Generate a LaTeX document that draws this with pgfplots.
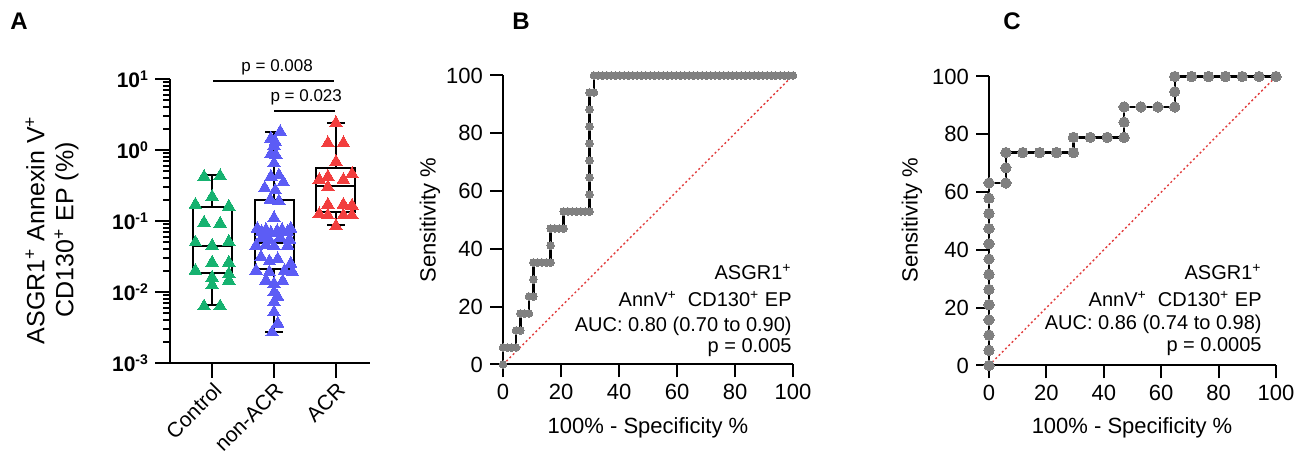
\documentclass[border=0pt]{standalone}
\usepackage{pgfplots}
\usepackage{pgfplotstable}
\pgfplotsset{compat=1.18}
\usepackage{fontspec}
\setmainfont{Liberation Sans}
\definecolor{cgreen}{RGB}{22,178,112}
\definecolor{cblue}{RGB}{92,92,245}
\definecolor{cred}{RGB}{242,62,62}
\definecolor{cgray}{RGB}{128,128,128}
\definecolor{cdiag}{RGB}{225,60,60}
\newcommand{\tenp}[1]{\textbf{10}\raisebox{0.6ex}{\fontsize{7}{8}\selectfont\textbf{#1}}}

\pgfplotstableread{
x y
0 0
0 5.88
1.49 5.88
2.99 5.88
4.48 5.88
4.48 11.76
5.97 11.76
5.97 17.65
7.46 17.65
8.96 17.65
8.96 23.53
10.45 23.53
10.45 29.41
10.45 35.29
11.94 35.29
13.43 35.29
14.93 35.29
16.42 35.29
16.42 41.18
16.42 47.06
17.91 47.06
19.40 47.06
20.90 47.06
20.90 52.94
22.39 52.94
23.88 52.94
25.37 52.94
26.87 52.94
28.36 52.94
29.85 52.94
29.85 58.82
29.85 64.71
29.85 70.59
29.85 76.47
29.85 82.35
29.85 88.24
29.85 94.12
31.34 94.12
31.34 100
32.84 100
34.33 100
35.82 100
37.31 100
38.81 100
40.30 100
41.79 100
43.28 100
44.78 100
46.27 100
47.76 100
49.25 100
50.75 100
52.24 100
53.73 100
55.22 100
56.72 100
58.21 100
59.70 100
61.19 100
62.69 100
64.18 100
65.67 100
67.16 100
68.66 100
70.15 100
71.64 100
73.13 100
74.63 100
76.12 100
77.61 100
79.10 100
80.60 100
82.09 100
83.58 100
85.07 100
86.57 100
88.06 100
89.55 100
91.04 100
92.54 100
94.03 100
95.52 100
97.01 100
98.51 100
100 100
}\rocB

\pgfplotstableread{
x y
0 0
0 5.26
0 10.53
0 15.79
0 21.05
0 26.32
0 31.58
0 36.84
0 42.11
0 47.37
0 52.63
0 57.89
0 63.16
5.88 63.16
5.88 68.42
5.88 73.68
11.76 73.68
17.65 73.68
23.53 73.68
29.41 73.68
29.41 78.95
35.29 78.95
41.18 78.95
47.06 78.95
47.06 84.21
47.06 89.47
52.94 89.47
58.82 89.47
64.71 89.47
64.71 94.74
64.71 100
70.59 100
76.47 100
82.35 100
88.24 100
94.12 100
100 100
}\rocC

\begin{document}
\begin{tikzpicture}[x=0.5pt,y=0.5pt]
\path[use as bounding box] (0,0) rectangle (1299,459);

% ---------------- Panel A ----------------
\begin{axis}[
  at={(85pt,48pt)}, anchor=south west,
  scale only axis, width=100pt, height=142pt,
  ymode=log, ymin=1e-3, ymax=10,
  xmin=-0.68, xmax=2.55,
  axis lines=left, axis line style={-, line width=1pt},
  xtick={0,1,2}, xticklabels={Control,non-ACR,ACR},
  xticklabel style={rotate=45, anchor=north east, inner sep=1pt, font=\fontsize{10.5}{12}\selectfont},
  ytick={1e-3,1e-2,1e-1,1,10},
  yticklabels={\tenp{-3},\tenp{-2},\tenp{-1},\tenp{0},\tenp{1}},
  yticklabel style={font=\fontsize{10.5}{12}\selectfont},
  minor ytick={2e-3,3e-3,4e-3,5e-3,6e-3,7e-3,8e-3,9e-3,2e-2,3e-2,4e-2,5e-2,6e-2,7e-2,8e-2,9e-2,2e-1,3e-1,4e-1,5e-1,6e-1,7e-1,8e-1,9e-1,2,3,4,5,6,7,8,9},
  tick align=outside, major tick length=7.5pt, minor tick length=3.5pt,
  tick style={black, line width=1pt},
  clip=false, unbounded coords=jump,
]
\draw[line width=1pt] (rel axis cs:0,0) -- ++(-7.5pt,0pt);
% boxes
\addplot[black, line width=1pt, line join=miter] coordinates {
 (-0.315,0.0186) (0.315,0.0186) (0.315,0.16) (-0.315,0.16) (-0.315,0.0186) (nan,nan)
 (-0.315,0.044) (0.315,0.044) (nan,nan)
 (0,0.0065) (0,0.0186) (nan,nan) (0,0.16) (0,0.44) (nan,nan)
 (-0.14,0.0065) (0.14,0.0065) (nan,nan) (-0.14,0.44) (0.14,0.44)};
\addplot[black, line width=1pt, line join=miter] coordinates {
 (0.685,0.021) (1.315,0.021) (1.315,0.2) (0.685,0.2) (0.685,0.021) (nan,nan)
 (0.685,0.049) (1.315,0.049) (nan,nan)
 (1,0.0027) (1,0.021) (nan,nan) (1,0.2) (1,1.8) (nan,nan)
 (0.86,0.0027) (1.14,0.0027) (nan,nan) (0.86,1.8) (1.14,1.8)};
\addplot[black, line width=1pt, line join=miter] coordinates {
 (1.685,0.135) (2.315,0.135) (2.315,0.56) (1.685,0.56) (1.685,0.135) (nan,nan)
 (1.685,0.31) (2.315,0.31) (nan,nan)
 (2,0.087) (2,0.135) (nan,nan) (2,0.56) (2,2.4) (nan,nan)
 (1.86,0.087) (2.14,0.087) (nan,nan) (1.86,2.4) (2.14,2.4)};
% points
\addplot[only marks, color=cgreen, mark=triangle*, mark size=3.6pt, mark options={fill=cgreen, draw=cgreen, line width=0pt}] coordinates {
 (-0.13,0.42) (0.13,0.43) (0,0.22) (-0.27,0.17) (0.27,0.16) (-0.13,0.095) (0.13,0.092)
 (-0.27,0.050) (0,0.045) (0.27,0.051) (0,0.026) (0.27,0.026) (-0.27,0.020) (0.27,0.018)
 (0,0.016) (0.27,0.0145) (0,0.0125) (-0.13,0.0063) (0.13,0.0063)};
\addplot[only marks, color=cblue, mark=triangle*, mark size=3.6pt, mark options={fill=cblue, draw=cblue, line width=0pt}] coordinates {
 (1.10,1.8) (0.95,1.45) (1.02,1.3) (1.0,1.15) (0.95,0.88) (1.03,0.85) (1.0,0.65)
 (0.95,0.42) (1.08,0.44) (1.15,0.35) (0.85,0.29) (1.02,0.27) (0.94,0.20) (1.08,0.19)
 (1.0,0.11) (0.73,0.078) (0.80,0.070) (0.87,0.075) (0.95,0.068) (1.05,0.072) (1.13,0.075)
 (1.22,0.070) (1.27,0.078) (0.80,0.057) (0.92,0.055) (1.10,0.058) (1.25,0.055)
 (0.71,0.045) (0.87,0.046) (1.0,0.044) (1.22,0.045) (0.79,0.031) (0.925,0.027) (1.06,0.029)
 (1.27,0.025) (0.71,0.020) (0.925,0.019) (1.17,0.020) (1.30,0.019) (0.87,0.0145) (1.0,0.013)
 (1.14,0.0142) (1.0,0.0099) (1.06,0.0085) (1.0,0.0072) (1.0,0.0052) (1.06,0.0036) (0.97,0.0027)};
\addplot[only marks, color=cred, mark=triangle*, mark size=3.6pt, mark options={fill=cred, draw=cred, line width=0pt}] coordinates {
 (2,2.4) (1.87,1.25) (2.12,1.25) (2,0.68) (1.73,0.38) (1.87,0.42) (2.12,0.38) (2.26,0.46)
 (1.87,0.30) (1.73,0.125) (1.87,0.17) (2.12,0.17) (2.26,0.165) (1.87,0.12) (2.12,0.12)
 (2.26,0.12) (2,0.085)};
% significance bars
\addplot[black, line width=1pt] coordinates {(0.02,9.4) (1.97,9.4)};
\addplot[black, line width=1pt] coordinates {(1.0,3.55) (1.98,3.55)};
\node[font=\fontsize{8.5}{10}\selectfont] at (axis cs:1.05,14.8) {p = 0.008};
\node[font=\fontsize{8.5}{10}\selectfont] at (axis cs:1.52,5.6) {p = 0.023};
\end{axis}

% ---------------- Panel B ----------------
\begin{axis}[
  at={(251.5pt,47.25pt)}, anchor=south west,
  scale only axis, width=145pt, height=144.5pt,
  xmin=0, xmax=100, ymin=0, ymax=100,
  axis lines=left, axis line style={-, line width=1pt},
  xtick={0,20,40,60,80,100}, ytick={0,20,40,60,80,100},
  tick align=outside, major tick length=6.5pt,
  tick style={black, line width=1pt},
  ticklabel style={font=\fontsize{11}{13}\selectfont},
  /pgf/number format/assume math mode=true,
  clip=false,
]
\addplot[cdiag, line width=0.7pt, dash pattern=on 1pt off 1.3pt] coordinates {(0,0) (100,100)};
\addplot[only marks, color=cgray, mark=*, mark size=1.9pt, mark options={fill=cgray, draw=cgray, line width=0pt}] table {\rocB};
\addplot[black, line width=1.2pt] table {\rocB};
\end{axis}

% ---------------- Panel C ----------------
\begin{axis}[
  at={(494.5pt,46.75pt)}, anchor=south west,
  scale only axis, width=143.5pt, height=144.5pt,
  xmin=0, xmax=100, ymin=0, ymax=100,
  axis lines=left, axis line style={-, line width=1pt},
  xtick={0,20,40,60,80,100}, ytick={0,20,40,60,80,100},
  tick align=outside, major tick length=6.5pt,
  tick style={black, line width=1pt},
  ticklabel style={font=\fontsize{11}{13}\selectfont},
  /pgf/number format/assume math mode=true,
  clip=false,
]
\addplot[cdiag, line width=0.7pt, dash pattern=on 1pt off 1.3pt] coordinates {(0,0) (100,100)};
\addplot[only marks, color=cgray, mark=*, mark size=2.6pt, mark options={fill=cgray, draw=cgray, line width=0pt}] table {\rocC};
\addplot[black, line width=1.2pt] table {\rocC};
\end{axis}

% ---------------- text ----------------
\node[font=\bfseries\fontsize{12}{14}\selectfont] at (19,438) {A};
\node[font=\bfseries\fontsize{12}{14}\selectfont] at (521,438) {B};
\node[font=\bfseries\fontsize{12}{14}\selectfont] at (1012,438) {C};

\node[rotate=90, align=center, font=\fontsize{12.5}{14.5}\selectfont] at (52,229)
  {ASGR1\textsuperscript{+} Annexin V\textsuperscript{+}\\CD130\textsuperscript{+} EP (\%)};

\node[rotate=90, font=\fontsize{11}{13}\selectfont] at (430,239) {Sensitivity \%};
\node[rotate=90, font=\fontsize{11}{13}\selectfont] at (912,239) {Sensitivity \%};
\node[anchor=base, font=\fontsize{11}{13}\selectfont] at (648,25) {100\% - Specificity \%};
\node[anchor=base, font=\fontsize{11}{13}\selectfont] at (1132,25) {100\% - Specificity \%};

\begin{scope}[every node/.style={anchor=base east, inner sep=0pt, font=\fontsize{10}{12}\selectfont}]
\node at (792,179) {ASGR1\textsuperscript{+}};
\node at (792,152.3) {AnnV\textsuperscript{+}\ \ CD130\textsuperscript{+} EP};
\node at (792,127.3) {AUC: 0.80 (0.70 to 0.90)};
\node at (792,106) {p = 0.005};
\node at (1262,179) {ASGR1\textsuperscript{+}};
\node at (1262,152.3) {AnnV\textsuperscript{+}\ \ CD130\textsuperscript{+} EP};
\node at (1262,129) {AUC: 0.86 (0.74 to 0.98)};
\node at (1262,107.3) {p = 0.0005};
\end{scope}
\end{tikzpicture}
\end{document}
